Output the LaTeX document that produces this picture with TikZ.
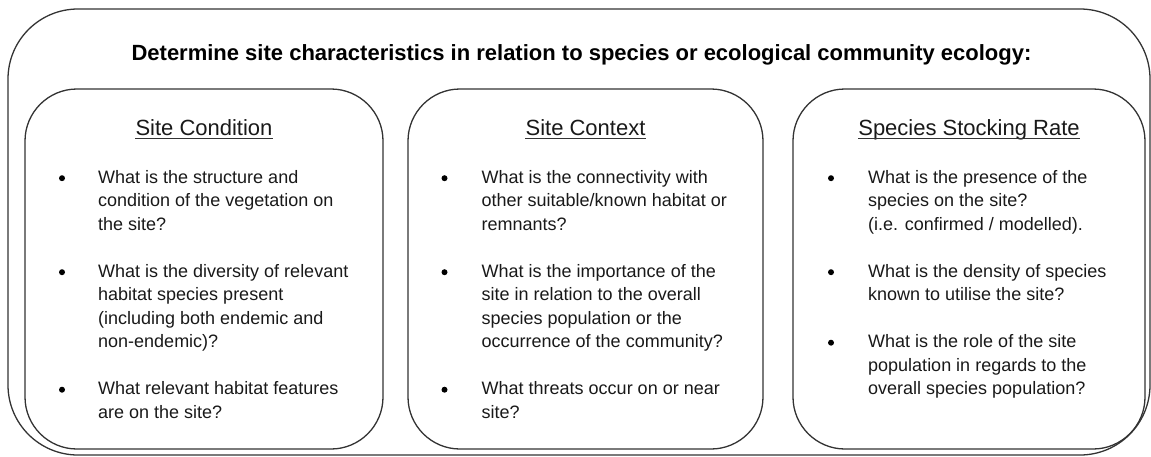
\documentclass[tikz,border=0pt]{standalone}
\usepackage{fontspec}
\setmainfont{Liberation Sans}
\tikzset{
  frame/.style={draw=black!80, line width=1.3pt, rounded corners=#1},
  bodytext/.style={inner sep=0pt, font=\fontsize{18}{23.5}\selectfont, text=black!90},
  headtext/.style={inner sep=0pt, font=\fontsize{22}{26}\selectfont, text=black!90, anchor=base},
  titletext/.style={inner sep=0pt, font=\fontsize{22}{26}\selectfont\bfseries, text=black, anchor=base},
  bulletdot/.style={circle, fill=black, inner sep=0pt, minimum size=6pt},
  uline/.style={line width=1.4pt, draw=black!80}
}
\newcommand\mypara[5]{% prefix, bullet x, text x, first k, lines
  \pgfmathsetmacro\by{183+23.5*#4-4.8}
  \node[bulletdot] (#1-b) at (#2,\by) {};
  \foreach \t [count=\i from 0] in {#5} {
    \pgfmathsetmacro\yy{183+23.5*(#4+\i)}
    \node[bodytext, anchor=base west] (#1-\i) at (#3,\yy) {\t};
  }
}
\begin{document}
\begin{tikzpicture}[x=1pt,y=-1pt]
\useasboundingbox (0,0) rectangle (1151,456);
% outer frame
\draw[frame=70] (8,9) rectangle (1150,455);
% inner frames
\draw[frame=52] (25,89) rectangle (383,449);
\draw[frame=52] (408,89) rectangle (763,449);
\draw[frame=52] (793,89) rectangle (1145,449);
% title
\node[titletext] (title) at (581.5,60) {Determine site characteristics in relation to species or ecological community ecology:};
% headings
\node[headtext] (h1) at (204,135) {Site Condition};
\node[headtext] (h2) at (585.5,135) {Site Context};
\node[headtext] (h3) at (969,135) {Species Stocking Rate};
\foreach \h in {h1,h2,h3} {
  \draw[uline] ([yshift=-3.5pt]\h.base west) -- ([yshift=-3.5pt]\h.base east);
}
% box 1
\mypara{a1}{62}{98}{0}{What is the structure and,condition of the vegetation on,the site?}
\mypara{a2}{62}{98}{4}{What is the diversity of relevant,habitat species present,{}(including both endemic and,non-endemic)?}
\mypara{a3}{62}{98}{9}{What relevant habitat features,are on the site?}
% box 2
\mypara{b1}{444.5}{481.5}{0}{What is the connectivity with,other suitable/known habitat or,remnants?}
\mypara{b2}{444.5}{481.5}{4}{What is the importance of the,site in relation to the overall,species population or the,occurrence of the community?}
\mypara{b3}{444.5}{481.5}{9}{What threats occur on or near,site?}
% box 3
\mypara{c1}{831}{868}{0}{What is the presence of the,species on the site?,{}(i.e. confirmed / modelled).}
\mypara{c2}{831}{868}{4}{What is the density of species,known to utilise the site?}
\mypara{c3}{831}{868}{7}{What is the role of the site,population in regards to the,overall species population?}
\end{tikzpicture}
\end{document}
